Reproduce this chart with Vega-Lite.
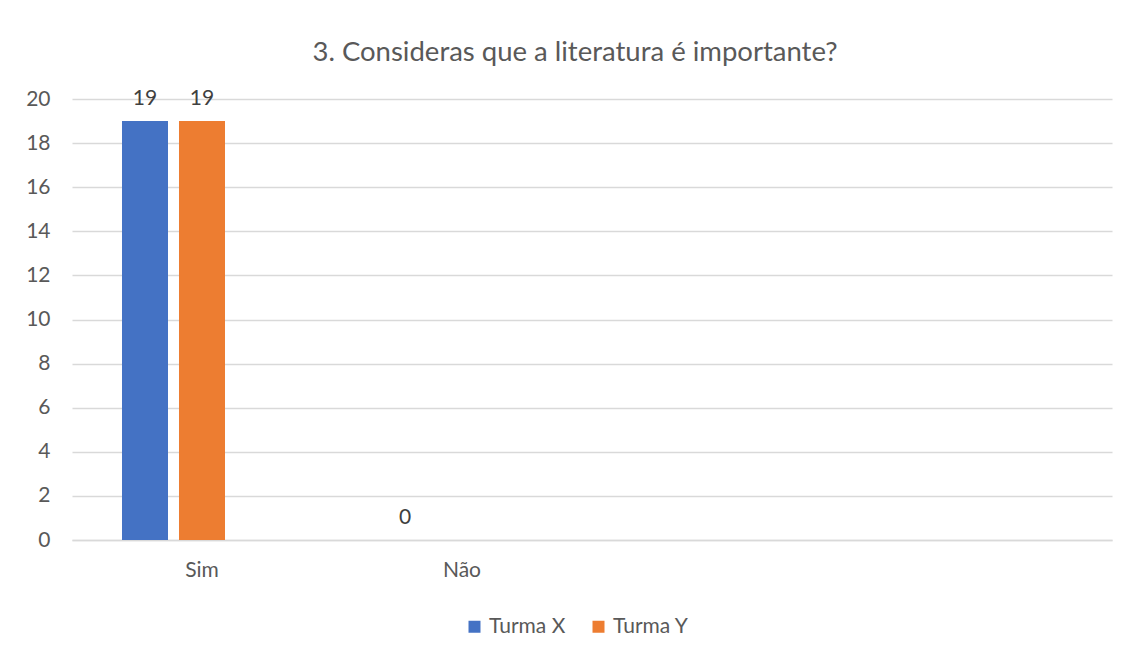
{
  "$schema": "https://vega.github.io/schema/vega-lite/v6.json",
  "width": 1040,
  "height": 441,
  "autosize": "none",
  "padding": {"left": 72, "top": 99, "right": 29, "bottom": 115},
  "background": "white",
  "config": {
    "view": {"stroke": null},
    "font": "Lato"
  },
  "title": {
    "text": "3. Consideras que a literatura é importante?",
    "fontSize": 27.5,
    "fontWeight": "normal",
    "color": "#595959",
    "font": "Lato",
    "anchor": "middle",
    "dx": -17,
    "offset": 22
  },
  "data": {
    "values": [
      {"resposta": "Sim", "turma": "Turma X", "valor": 19},
      {"resposta": "Sim", "turma": "Turma Y", "valor": 19},
      {"resposta": "Não", "turma": "Turma X", "valor": 0}
    ]
  },
  "encoding": {
    "x": {
      "field": "resposta",
      "type": "nominal",
      "sort": null,
      "scale": {"domain": ["Sim", "Não", " ", "  "], "paddingInner": 0.3846, "paddingOuter": 0.1923},
      "axis": {
        "title": null,
        "labelAngle": 0,
        "labelFontSize": 21,
        "labelColor": "#595959",
        "labelPadding": 19,
        "ticks": false,
        "domain": true,
        "domainColor": "#d9d9d9",
        "domainWidth": 1.5,
        "labelFont": "Lato"
      }
    },
    "xOffset": {
      "field": "turma",
      "type": "nominal",
      "scale": {"domain": ["Turma X", "Turma Y", "_"], "paddingInner": 0.193, "paddingOuter": 0}
    },
    "y": {
      "field": "valor",
      "type": "quantitative",
      "scale": {"domain": [0, 20], "nice": false},
      "axis": {
        "title": null,
        "values": [0, 2, 4, 6, 8, 10, 12, 14, 16, 18, 20],
        "labelFontSize": 21,
        "labelColor": "#595959",
        "labelPadding": 22,
        "ticks": false,
        "domain": false,
        "gridColor": "#d9d9d9",
        "gridWidth": 1.5,
        "labelFont": "Lato"
      }
    }
  },
  "layer": [
    {
      "mark": {"type": "bar"},
      "encoding": {
        "color": {
          "field": "turma",
          "type": "nominal",
          "scale": {"domain": ["Turma X", "Turma Y"], "range": ["#4472c4", "#ed7d31"]},
          "legend": {
            "title": null,
            "orient": "none",
            "direction": "horizontal",
            "legendX": 392,
            "legendY": 517,
            "symbolType": "square",
            "symbolSize": 144,
            "symbolStrokeWidth": 0,
            "labelFontSize": 21,
            "labelColor": "#595959",
            "labelFont": "Lato",
            "columnPadding": 22,
            "labelOffset": 4
          }
        }
      }
    },
    {
      "mark": {"type": "text", "baseline": "alphabetic", "dy": -16, "fontSize": 21, "color": "#404040", "font": "Lato"},
      "encoding": {
        "text": {"field": "valor", "type": "quantitative"}
      }
    }
  ]
}
